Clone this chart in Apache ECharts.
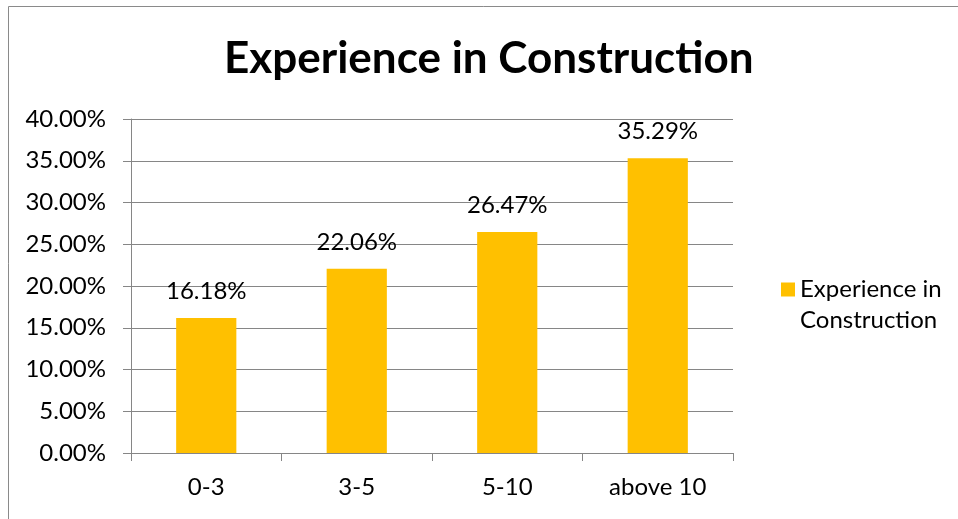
<!DOCTYPE html>
<html>
<head>
<meta charset="utf-8">
<script src="https://cdn.jsdelivr.net/npm/echarts@6/dist/echarts.min.js"></script>
<style>
  html, body { margin: 0; padding: 0; background: #fff; }
  #chart { width: 958px; height: 519px; }
</style>
</head>
<body>
<div id="chart"></div>
<script>
// Share of respondents by years of construction experience (percent)
const categories = ['0-3', '3-5', '5-10', 'above 10'];
const shares = [16.18, 22.06, 26.47, 35.29];
const seriesName = 'Experience in Construction';
const titleText = 'Experience in Construction';

const FONT = 'Lato';
const AXIS_GRAY = '#868686';
const BAR_GOLD = '#FFC000';

const chart = echarts.init(document.getElementById('chart'), null, { renderer: 'canvas' });

chart.setOption({
  animation: false,
  backgroundColor: '#ffffff',
  title: {
    text: titleText,
    left: 219,
    top: 32,
    textStyle: { fontFamily: FONT, fontWeight: 'bold', fontSize: 44, color: '#000' }
  },
  graphic: [{
    type: 'rect',
    shape: { x: 8.5, y: 6.5, width: 1000, height: 1000 },
    style: { fill: 'none', stroke: '#8a8a8a', lineWidth: 1 },
    silent: true,
    z: -1
  }],
  legend: {
    data: [seriesName],
    left: 776,
    top: 238,
    orient: 'vertical',
    icon: 'rect',
    itemWidth: 14,
    itemHeight: 14,
    itemGap: 7,
    // blank first line keeps the marker level with "Experience in"
    formatter: () => '\u00a0\nExperience in\nConstruction',
    textStyle: { fontFamily: FONT, fontSize: 24, color: '#000', lineHeight: 31 }
  },
  grid: { left: 131, right: 225, top: 119, bottom: 66, containLabel: false },
  xAxis: {
    type: 'category',
    data: categories,
    boundaryGap: true,
    axisLine: { show: true, lineStyle: { color: AXIS_GRAY, width: 1 } },
    axisTick: { show: true, length: 8, lineStyle: { color: AXIS_GRAY } },
    axisLabel: { fontFamily: FONT, fontSize: 24, color: '#000', margin: 22 }
  },
  yAxis: {
    type: 'value',
    min: 0,
    max: 40,
    interval: 5,
    axisLine: { show: true, lineStyle: { color: AXIS_GRAY, width: 1 } },
    axisTick: { show: true, length: 8, lineStyle: { color: AXIS_GRAY } },
    splitLine: { show: true, lineStyle: { color: AXIS_GRAY, width: 1 } },
    axisLabel: {
      fontFamily: FONT, fontSize: 24, color: '#000', margin: 25,
      formatter: v => v.toFixed(2) + '%'
    }
  },
  series: [{
    name: seriesName,
    type: 'bar',
    data: shares,
    barWidth: '40%',
    itemStyle: { color: BAR_GOLD },
    label: {
      show: true,
      position: 'top',
      distance: 15,
      fontFamily: FONT, fontSize: 24, color: '#000',
      formatter: p => p.value.toFixed(2) + '%'
    }
  }]
});
</script>
</body>
</html>
